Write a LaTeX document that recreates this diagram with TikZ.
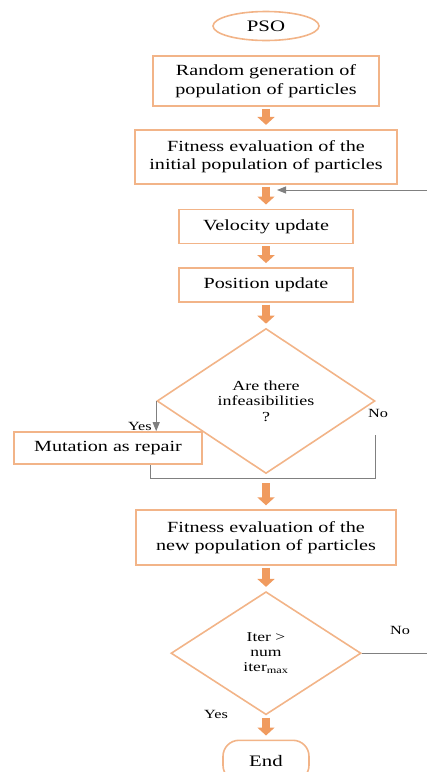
\documentclass[tikz,border=0pt]{standalone}
\usepackage{fontspec}
\setmainfont{Liberation Serif}[FakeStretch=1.3]
\usetikzlibrary{arrows.meta, positioning, shapes.geometric, calc}
\definecolor{boxline}{RGB}{242,180,136}
\definecolor{blockarrow}{RGB}{240,155,95}
\definecolor{loopgray}{RGB}{128,128,128}

\begin{document}
\begin{tikzpicture}[node distance=22pt,
	box/.style={rectangle, draw=boxline, line width=1.6pt, align=center, font=\fontsize{15.5}{18.5}\selectfont},
	decision/.style={diamond, draw=boxline, line width=1.6pt, align=center, inner sep=0pt},
	terminal/.style={draw=boxline, line width=1.6pt, font=\fontsize{16}{19}\selectfont},
	flow/.style={-{Triangle[width=17pt, length=8pt]}, blockarrow, line width=8pt, shorten <=2pt, shorten >=4pt},
	loop/.style={loopgray, line width=1pt},
	lbl/.style={font=\fontsize{12.5}{14}\selectfont}]

			\useasboundingbox (0,0) rectangle (427pt,-772pt);

			\node[terminal, ellipse, minimum width=106pt, minimum height=29pt] (pso) at (266pt,-26pt) {PSO};
			\node[box, minimum width=226pt, minimum height=50pt] (randgen) [below=14pt of pso] {Random generation of\\population of particles};
			\node[box, minimum width=262pt, minimum height=54pt] (initfit) [below=22pt of randgen] {Fitness evaluation of the\\initial population of particles};
			\node[box, minimum width=174pt, minimum height=34pt] (velupd) [below=24pt of initfit] {Velocity update};
			\node[box, minimum width=174pt, minimum height=34pt] (posupd) [below=23pt of velupd] {Position update};
			\node[decision, minimum width=218pt, minimum height=145pt, font=\fontsize{13.8}{15.5}\selectfont] (infeas) [below=25pt of posupd] {Are there\\infeasibilities\\?};
			\node[box, minimum width=188pt, minimum height=32pt] (mutrep) at (108pt,-448pt) {Mutation as repair};
			\node[box, minimum width=260pt, minimum height=55pt] (newfit) [below=35pt of infeas] {Fitness evaluation of the\\new population of particles};
			\node[decision, minimum width=190pt, minimum height=123pt, font=\fontsize{13.5}{15}\selectfont] (itercheck) [below=25pt of newfit] {Iter >\\num\\iter\textsubscript{max}};
			\node[terminal, rounded corners=16pt, minimum width=86pt, minimum height=41pt] (end) [below=24pt of itercheck] {End};

			\coordinate (loopin) at (427pt,-190pt);
			\coordinate (looptip) at (277pt,-190pt);
			\coordinate (nostart) at ([yshift=-34pt]infeas.east);
			\coordinate (mergeL) at (150pt,-478pt);
			\coordinate (mergeM) at (infeas.south |- mergeL);
			\coordinate (loopout) at (427pt,-643pt);

			\path[flow]
			(randgen) edge (initfit)
			(initfit) edge (velupd)
			(velupd) edge (posupd)
			(posupd) edge (infeas)
			(newfit) edge (itercheck)
			(itercheck) edge (end);
			\draw[flow, shorten <=5pt] (mergeM) -- (newfit);

			\draw[loop, -{Triangle[width=7pt, length=9pt]}] (loopin) -- (looptip);
			\draw[loop, -{Triangle[width=7pt, length=9pt]}] (infeas.west) -- (infeas.west |- mutrep.north);
			\draw[loop] (nostart) |- (mergeL) -- (mergeL |- mutrep.south);
			\draw[loop] (itercheck.east) -- (itercheck.east -| loopout);

			\node[lbl, anchor=east] (yes1) at ([xshift=-1pt, yshift=-25pt]infeas.west) {Yes};
			\node[lbl] (no1) at (378pt,-413pt) {No};
			\node[lbl] (no2) at (400pt,-630pt) {No};
			\node[lbl] (yes2) at (216pt,-714pt) {Yes};

			\end{tikzpicture}
\end{document}
